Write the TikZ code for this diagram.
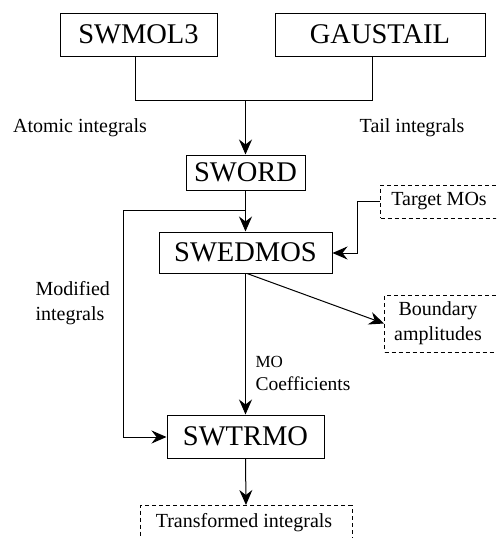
\documentclass[tikz,border=0pt]{standalone}
\usepackage{fontspec}
\setmainfont{Liberation Serif}
\usetikzlibrary{arrows.meta}
\begin{document}
\begin{tikzpicture}[x=1pt,y=-1pt,
  line width=1pt,
  prog/.style={draw, inner sep=0pt, font=\fontsize{28.5}{30}\selectfont},
  dbox/.style={draw, dash pattern=on 4pt off 3pt, inner sep=0pt},
  lbl/.style={inner sep=0pt, font=\fontsize{20}{25}\selectfont},
  arr/.style={-{Stealth[length=15pt,width=13pt,inset=5pt]}}]
\useasboundingbox (0,0) rectangle (496,538);
\clip (0,0) rectangle (496,538);
% program boxes
\node[prog, minimum width=157pt, minimum height=43pt] (mol) at (138.5,34.5) {SWMOL3};
\node[prog, minimum width=210pt, minimum height=43pt] (gau) at (380,34.5) {GAUSTAIL};
\node[prog, minimum width=119pt, minimum height=35pt] (sword) at (245.5,172.5) {SWORD};
\node[prog, minimum width=173pt, minimum height=41pt] (swed) at (245.5,252.5) {SWEDMOS};
\node[prog, minimum width=157pt, minimum height=43pt] (swtr) at (245.5,436.5) {SWTRMO};
% dashed data boxes
\node[dbox, minimum width=125pt, minimum height=33pt, anchor=west] (tmo) at (380,201.5) {};
\node[lbl] at (439,201.5) {Target MOs};
\node[dbox, minimum width=125pt, minimum height=57pt, anchor=west] (bnd) at (384,323.5) {};
\node[lbl, align=center] at (438,323.5) {Boundary\\amplitudes};
\node[dbox, minimum width=212pt, minimum height=40pt, anchor=north] (trf) at (246,505) {};
\node[lbl] at (244,523) {Transformed integrals};
% labels
\node[lbl] (atl) at (80,128) {Atomic integrals};
\node[lbl] (tal) at (412,128) {Tail integrals};
\node[lbl, align=left, anchor=west] (modl) at (35,303.5) {Modified\\integrals};
\node[inner sep=0pt, align=left, anchor=west, font=\fontsize{19.5}{23}\selectfont] (mocl) at (255,373.5) {{\fontsize{17}{23}\selectfont MO}\\Coefficients};
% coordinates
\coordinate (j1) at (135,100);
\coordinate (j2) at (372,100);
\coordinate (jm) at (245.5,100);
\coordinate (b1) at (245.5,210);
\coordinate (b2) at (123,210);
\coordinate (b3) at (123,437);
\coordinate (t1) at (357,201.5);
\coordinate (t2) at (357,253);
% connectors
\draw (mol.south -| j1) -- (j1) -- (j2) -- (gau.south -| j2);
\draw[arr] (jm) -- (sword.north);
\draw[arr] (sword.south) -- (swed.north);
\draw[arr] (b1) -- (b2) -- (b3) -- (swtr.west |- b3);
\draw[arr] (tmo.west) -- (t1) -- (t2) -- (swed.east |- t2);
\draw[arr] ([xshift=1.5pt]swed.south) -- (bnd.west);
\draw[arr] (swed.south) -- (swtr.north);
\draw[arr] (swtr.south) -- (trf.north);
\end{tikzpicture}
\end{document}
